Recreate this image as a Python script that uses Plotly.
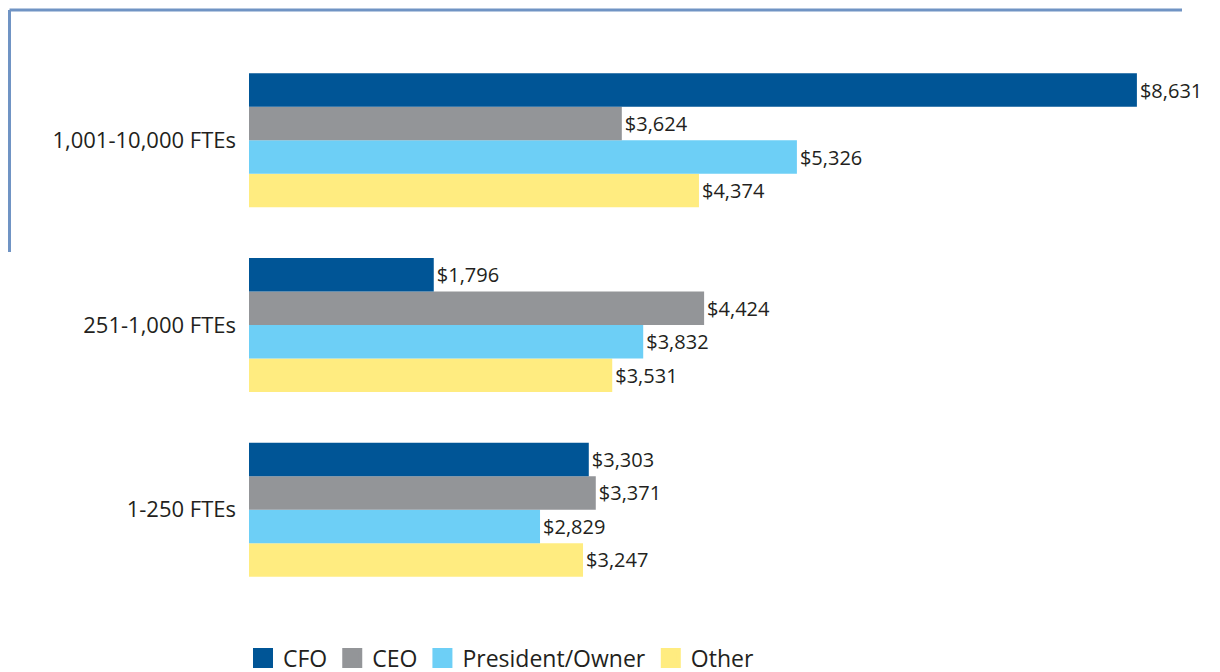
import plotly.graph_objects as go

categories = ["1-250 FTEs", "251-1,000 FTEs", "1,001-10,000 FTEs"]
series_names = ["CFO", "CEO", "President/Owner", "Other"]
cfo = [3303, 1796, 8631]
ceo = [3371, 4424, 3624]
president = [2829, 3832, 5326]
other = [3247, 3531, 4374]
colors = {"CFO": "#005596", "CEO": "#939598", "President/Owner": "#6DCFF6", "Other": "#FFEC80"}
values = {"CFO": cfo, "CEO": ceo, "President/Owner": president, "Other": other}

FONT = "Open Sans, Lato, sans-serif"
TXT = "#231F20"

fig = go.Figure()
# bars: add bottom-most first so CFO sits on top of each group
for name in reversed(series_names):
    v = values[name]
    fig.add_trace(go.Bar(
        y=categories, x=v, orientation="h", name=name,
        marker=dict(color=colors[name], line=dict(width=0)),
        text=[f"${x:,}" for x in v], textposition="outside",
        textfont=dict(size=20, color=TXT, family=FONT),
        cliponaxis=False, showlegend=False,
    ))
# legend proxies
for name in series_names:
    fig.add_trace(go.Scatter(
        x=[None], y=[None], mode="markers", name=name,
        marker=dict(symbol="square", size=16, color=colors[name],
                    line=dict(color=colors[name], width=4)),
        showlegend=True,
    ))

OFF = 8  # page body margin
W, H = 1220, 672
L, R, T, B = 249 - OFF, 40 + OFF, 48 - OFF, 70 + OFF
pw, ph = W - L - R, H - T - B
def px(xp): return (xp - OFF - L) / pw
def py(yp): return (H - B - (yp - OFF)) / ph

line_col = "#7094C4"
fig.add_shape(type="line", xref="paper", yref="paper", x0=px(9.5), x1=px(1182), y0=py(10), y1=py(10),
              line=dict(color=line_col, width=3))
fig.add_shape(type="line", xref="paper", yref="paper", x0=px(9.5), x1=px(9.5), y0=py(10), y1=py(252),
              line=dict(color=line_col, width=3))

fig.update_layout(
    width=W, height=H,
    margin=dict(l=L, r=R, t=T, b=B, autoexpand=False),
    paper_bgcolor="white", plot_bgcolor="white",
    barmode="group", bargap=0.274, bargroupgap=0,
    font=dict(family=FONT, color=TXT),
    xaxis=dict(range=[0, 9050], visible=False, showgrid=False, zeroline=False),
    yaxis=dict(range=[-0.5, 2.5], showgrid=False, zeroline=False, showline=False, ticks="",
               tickfont=dict(size=22, color=TXT, family=FONT), ticklabelstandoff=12),
    legend=dict(orientation="h", x=px(243), xanchor="left", y=py(658), yanchor="middle",
                font=dict(size=23, color=TXT, family=FONT), itemwidth=30, bgcolor="rgba(0,0,0,0)"),
)

fig.write_html("out.html")
